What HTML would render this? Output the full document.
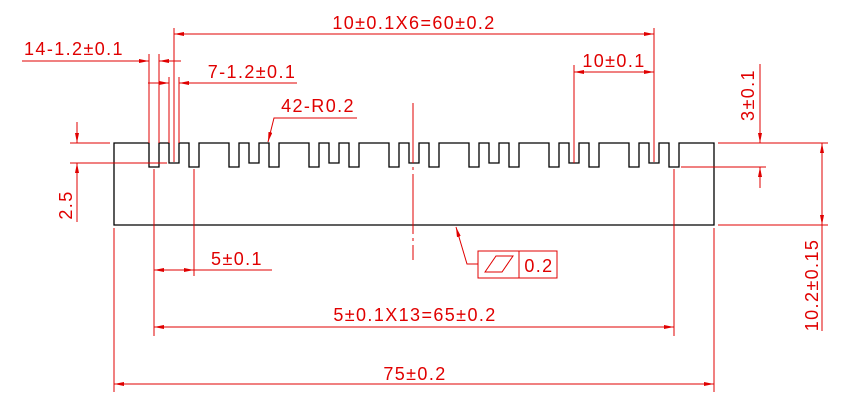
<!DOCTYPE html>
<html><head><meta charset="utf-8"><style>html,body{margin:0;padding:0;background:#fff}svg{display:block}text{font-family:"Liberation Sans",sans-serif;font-size:18px;letter-spacing:1.4px;fill:#e00000}</style></head><body>
<svg width="844" height="403" viewBox="0 0 844 403" xmlns="http://www.w3.org/2000/svg">
<defs>
<marker id="a" viewBox="0 0 10 4" refX="10" refY="2" markerWidth="10" markerHeight="4" markerUnits="userSpaceOnUse" orient="auto-start-reverse"><path d="M0,0L10,2L0,4z" fill="#e00000"/></marker>
</defs>
<path fill="none" stroke="#000" stroke-width="1.3" d="M114,143 H149 V167 H159 V143 H169 V163 H179 V143 H189 V167 H199 V143 H229 V167 H239 V143 H249 V163 H259 V143 H269 V167 H279 V143 H309 V167 H319 V143 H329 V163 H339 V143 H349 V167 H359 V143 H389 V167 H399 V143 H409 V163 H419 V143 H429 V167 H439 V143 H469 V167 H479 V143 H489 V163 H499 V143 H509 V167 H519 V143 H549 V167 H559 V143 H569 V163 H579 V143 H589 V167 H599 V143 H629 V167 H639 V143 H649 V163 H659 V143 H669 V167 H679 V143 H714 V225 H114 Z"/>
<g stroke="#e00000" stroke-width="1" fill="none">
<line x1="413" y1="103" x2="413" y2="260" stroke-dasharray="60,4,3,4"/>
<line x1="174" y1="28" x2="174" y2="162"/>
<line x1="654" y1="28" x2="654" y2="162"/>
<line x1="174" y1="34" x2="654" y2="34" marker-start="url(#a)" marker-end="url(#a)"/>
<line x1="149" y1="54" x2="149" y2="143"/>
<line x1="159" y1="54" x2="159" y2="143"/>
<line x1="22" y1="61" x2="149" y2="61" marker-end="url(#a)"/>
<line x1="181" y1="61" x2="159" y2="61" marker-end="url(#a)"/>
<line x1="169" y1="77" x2="169" y2="143"/>
<line x1="179" y1="77" x2="179" y2="143"/>
<line x1="148" y1="83" x2="169" y2="83" marker-end="url(#a)"/>
<line x1="297" y1="83" x2="179" y2="83" marker-end="url(#a)"/>
<polyline points="357,118 274,118 268,142" marker-end="url(#a)"/>
<line x1="574" y1="65" x2="574" y2="163"/>
<line x1="574" y1="72" x2="654" y2="72" marker-start="url(#a)" marker-end="url(#a)"/>
<line x1="718" y1="143" x2="828" y2="143"/>
<line x1="681" y1="167" x2="766" y2="167"/>
<line x1="760" y1="64" x2="760" y2="143" marker-end="url(#a)"/>
<line x1="760" y1="188" x2="760" y2="167" marker-end="url(#a)"/>
<line x1="718" y1="225" x2="828" y2="225"/>
<line x1="822" y1="143" x2="822" y2="225" marker-start="url(#a)" marker-end="url(#a)"/>
<line x1="822" y1="225" x2="822" y2="331"/>
<line x1="70" y1="143" x2="110" y2="143"/>
<line x1="70" y1="163" x2="167" y2="163"/>
<line x1="77" y1="122" x2="77" y2="143" marker-end="url(#a)"/>
<line x1="77" y1="222" x2="77" y2="163" marker-end="url(#a)"/>
<line x1="154" y1="169" x2="154" y2="336"/>
<line x1="194" y1="169" x2="194" y2="276"/>
<line x1="674" y1="169" x2="674" y2="336"/>
<line x1="114" y1="228" x2="114" y2="392"/>
<line x1="714" y1="228" x2="714" y2="392"/>
<line x1="154" y1="270" x2="194" y2="270" marker-start="url(#a)" marker-end="url(#a)"/>
<line x1="194" y1="270" x2="272" y2="270"/>
<line x1="154" y1="327" x2="674" y2="327" marker-start="url(#a)" marker-end="url(#a)"/>
<line x1="114" y1="384" x2="714" y2="384" marker-start="url(#a)" marker-end="url(#a)"/>
<polyline points="478,264 467,264 456,227" marker-end="url(#a)"/>
<rect x="478" y="251" width="79" height="27"/>
<line x1="519" y1="251" x2="519" y2="278"/>
<polygon points="485,272 496,256 513,256 502,272"/>
</g>
<g text-anchor="middle">
<text x="414" y="29">10±0.1X6=60±0.2</text>
<text x="74" y="55">14-1.2±0.1</text>
<text x="252" y="78">7-1.2±0.1</text>
<text x="318" y="112">42-R0.2</text>
<text x="614" y="67">10±0.1</text>
<text x="237" y="265">5±0.1</text>
<text x="415" y="321">5±0.1X13=65±0.2</text>
<text x="415" y="380">75±0.2</text>
<text x="539" y="272">0.2</text>
<text transform="translate(754,95) rotate(-90)">3±0.1</text>
<text transform="translate(818,285) rotate(-90)">10.2±0.15</text>
<text transform="translate(72,205) rotate(-90)">2.5</text>
</g>
</svg>
</body></html>
